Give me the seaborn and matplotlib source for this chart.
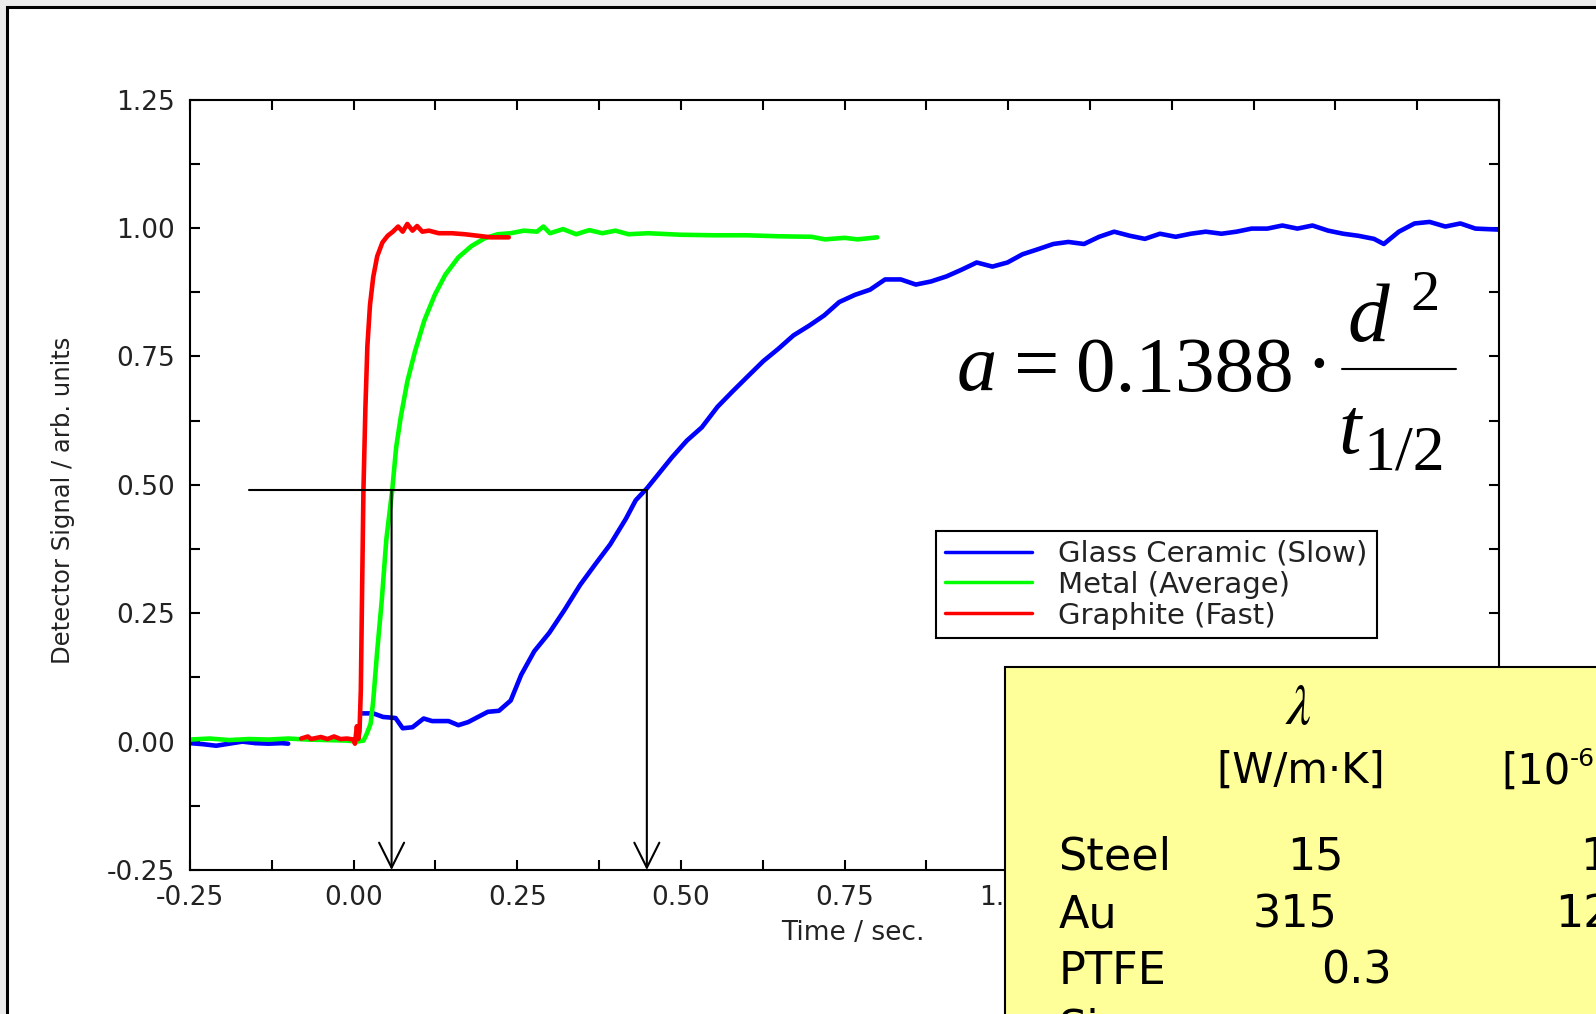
import numpy as np
import pandas as pd
import matplotlib
matplotlib.use('Agg')
import matplotlib.pyplot as plt
from matplotlib.patches import Rectangle
from matplotlib.lines import Line2D
from matplotlib.ticker import MultipleLocator, FormatStrFormatter
import seaborn as sns

# --- data (time in s, signal in arb. units) ---
glass_t_base = [-0.25, -0.23, -0.21, -0.19, -0.17, -0.15, -0.13, -0.11, -0.10]
glass_s_base = [-0.003, -0.005, -0.008, -0.004, 0.000, -0.003, -0.004, -0.003, -0.004]

glass_t = [0.010, 0.030, 0.045, 0.064, 0.075, 0.090, 0.107, 0.120, 0.145, 0.160,
           0.175, 0.190, 0.205, 0.222, 0.240, 0.256, 0.276, 0.299, 0.322, 0.346,
           0.369, 0.392, 0.416, 0.431, 0.448, 0.467, 0.486, 0.509, 0.532, 0.556,
           0.579, 0.602, 0.626, 0.649, 0.672, 0.696, 0.719, 0.742, 0.766, 0.789,
           0.812, 0.836, 0.859, 0.882, 0.906, 0.929, 0.952, 0.976, 0.999, 1.022,
           1.046, 1.069, 1.092, 1.116, 1.139, 1.162, 1.186, 1.209, 1.232, 1.256,
           1.279, 1.302, 1.326, 1.349, 1.372, 1.396, 1.419, 1.442, 1.465, 1.489,
           1.512, 1.535, 1.559, 1.574, 1.597, 1.621, 1.644, 1.668, 1.691, 1.714, 1.750]
glass_s = [0.055, 0.055, 0.048, 0.046, 0.026, 0.028, 0.045, 0.040, 0.040, 0.032,
           0.038, 0.048, 0.058, 0.060, 0.080, 0.130, 0.176, 0.212, 0.256, 0.305,
           0.345, 0.384, 0.434, 0.470, 0.493, 0.523, 0.553, 0.586, 0.612, 0.652,
           0.682, 0.711, 0.741, 0.765, 0.791, 0.810, 0.830, 0.856, 0.870, 0.880,
           0.900, 0.900, 0.890, 0.896, 0.906, 0.919, 0.933, 0.925, 0.933, 0.949,
           0.959, 0.969, 0.973, 0.969, 0.983, 0.993, 0.985, 0.979, 0.989, 0.983,
           0.989, 0.993, 0.989, 0.993, 0.999, 0.999, 1.005, 0.999, 1.005, 0.995,
           0.989, 0.985, 0.979, 0.969, 0.993, 1.009, 1.012, 1.003, 1.009, 0.999, 0.997]

metal_t = [-0.25, -0.22, -0.19, -0.16, -0.13, -0.10, -0.07, -0.04, -0.01, 0.005,
           0.015, 0.020, 0.026, 0.030, 0.036, 0.043, 0.050, 0.059, 0.065, 0.072,
           0.082, 0.094, 0.108, 0.124, 0.140, 0.160, 0.180, 0.200, 0.220, 0.240,
           0.260, 0.280, 0.290, 0.300, 0.320, 0.340, 0.360, 0.380, 0.400, 0.420,
           0.450, 0.500, 0.550, 0.600, 0.650, 0.700, 0.720, 0.750, 0.770, 0.800]
metal_s = [0.004, 0.006, 0.003, 0.005, 0.004, 0.006, 0.004, 0.003, 0.002, 0.000,
           0.002, 0.015, 0.035, 0.080, 0.176, 0.275, 0.394, 0.490, 0.573, 0.632,
           0.701, 0.761, 0.820, 0.870, 0.909, 0.943, 0.965, 0.980, 0.988, 0.990,
           0.995, 0.993, 1.003, 0.990, 0.998, 0.988, 0.996, 0.990, 0.995, 0.988,
           0.990, 0.987, 0.986, 0.986, 0.984, 0.983, 0.978, 0.981, 0.978, 0.982]

graphite_t = [-0.080, -0.070, -0.065, -0.050, -0.040, -0.030, -0.020, -0.010, 0.000, 0.002,
              0.005, 0.007, 0.009, 0.011, 0.013, 0.015, 0.018, 0.021, 0.025, 0.030,
              0.036, 0.044, 0.052, 0.060, 0.068, 0.075, 0.082, 0.090, 0.097, 0.105,
              0.115, 0.130, 0.150, 0.170, 0.190, 0.210, 0.237]
graphite_s = [0.006, 0.010, 0.005, 0.009, 0.005, 0.010, 0.005, 0.006, 0.004, -0.004,
              0.030, 0.005, 0.020, 0.100, 0.300, 0.490, 0.650, 0.770, 0.850, 0.905,
              0.945, 0.972, 0.985, 0.993, 1.003, 0.993, 1.008, 0.995, 1.004, 0.993,
              0.995, 0.990, 0.990, 0.988, 0.985, 0.982, 0.982]

labels = ['Glass Ceramic (Slow)', 'Metal (Average)', 'Graphite (Fast)']
colors = ['#0000ff', '#00ff00', '#ff0000']

half_level = 0.49
guide_start = -0.16
t_half_metal = 0.058
t_half_glass = 0.448

materials = ['Steel', 'Au', 'PTFE', 'Si']
conductivity = ['15', '315', '0.3', '']
third_col = ['1', '12', '', '']

W, H = 1596, 1014

sns.set_theme(style='ticks', rc={'axes.linewidth': 1.5, 'axes.edgecolor': 'black'})
plt.rcParams['font.family'] = ['DejaVu Sans']
plt.rcParams['mathtext.fontset'] = 'stix'
plt.rcParams['axes.unicode_minus'] = False

fig = plt.figure(figsize=(W / 100, H / 100), dpi=100, facecolor='#ebebeb')

def fx(px):
    return px / W

def fy(py):
    return 1 - py / H

# slide frame
fig.add_artist(Rectangle((fx(7), -0.1), 1.2, fy(7) + 0.1, transform=fig.transFigure,
                         facecolor='white', edgecolor='black', lw=2.2, zorder=-2))

ax = fig.add_axes([fx(190), fy(870), (1499 - 190) / W, (870 - 99.7) / H])
ax.set_facecolor('white')

lw = 3.3
sns.lineplot(x=glass_t_base, y=glass_s_base, color=colors[0], lw=lw, ax=ax, legend=False,
             sort=False, estimator=None)
sns.lineplot(x=glass_t, y=glass_s, color=colors[0], lw=lw, ax=ax, legend=False,
             sort=False, estimator=None)
sns.lineplot(x=metal_t, y=metal_s, color=colors[1], lw=lw, ax=ax, legend=False,
             sort=False, estimator=None)
sns.lineplot(x=graphite_t, y=graphite_s, color=colors[2], lw=lw, ax=ax, legend=False,
             sort=False, estimator=None)

# half-signal construction
ax.plot([guide_start, t_half_glass], [half_level, half_level], color='black', lw=1.5)
for th in [t_half_metal, t_half_glass]:
    ax.annotate('', xy=(th, -0.25), xytext=(th, half_level),
                arrowprops=dict(arrowstyle='->, head_length=0.9, head_width=0.45',
                                mutation_scale=20, color='black', lw=1.5,
                                shrinkA=0, shrinkB=0))

ax.set_xlim(-0.25, 1.75)
ax.set_ylim(-0.25, 1.25)
ax.xaxis.set_major_locator(MultipleLocator(0.25))
ax.xaxis.set_minor_locator(MultipleLocator(0.125))
ax.yaxis.set_major_locator(MultipleLocator(0.25))
ax.yaxis.set_minor_locator(MultipleLocator(0.125))
ax.xaxis.set_major_formatter(FormatStrFormatter('%.2f'))
ax.yaxis.set_major_formatter(FormatStrFormatter('%.2f'))
ax.tick_params(which='both', direction='in', top=True, right=True, length=7,
               width=1.5, color='black', labelsize=19, labelcolor='#222222')
ax.tick_params(axis='x', which='major', pad=11)
ax.tick_params(axis='y', which='major', pad=11)
for sp in ax.spines.values():
    sp.set_visible(True)
    sp.set_linewidth(1.5)
    sp.set_color('black')
ax.grid(False)

ax.set_xlabel('Time / sec.', fontsize=19, color='#222222')
ax.xaxis.label.set_verticalalignment('center')
ax.xaxis.set_label_coords((853 - 190) / 1309, -(933 - 870) / 770.3)
ax.set_ylabel('Detector Signal / arb. units', fontsize=17.5, color='#222222')
ax.yaxis.label.set_verticalalignment('center')
ax.yaxis.set_label_coords((63 - 190) / 1309, 1 - (500 - 99.7) / 770.3)

handles = [Line2D([0], [0], color=c, lw=2.5) for c in colors]
leg = ax.legend(handles, labels, loc='upper left', bbox_to_anchor=(fx(936), fy(531)),
                bbox_transform=fig.transFigure, fontsize=21, frameon=True, fancybox=False,
                framealpha=1, edgecolor='black', borderpad=0.3, handlelength=3.0,
                handletextpad=0.9, labelspacing=0.1, borderaxespad=0)
leg.get_frame().set_linewidth(1.5)
for t in leg.get_texts():
    t.set_color('#222222')

# formula a = 0.1388 * d^2 / t_1/2, set piece by piece
serif = 'Liberation Serif'
fig.text(fx(957), fy(390), 'a', fontsize=58, family=serif, style='italic',
         ha='left', va='baseline', color='black')
fig.text(fx(1014), fy(390), '=', fontsize=58, family=serif, ha='left', va='baseline',
         color='black')
fig.text(fx(1076), fy(391), '0.1388', fontsize=57, family=serif, ha='left', va='baseline',
         color='black')
fig.text(fx(1319), fy(390), '·', fontsize=58, family=serif, ha='center', va='baseline',
         color='black')
fig.add_artist(Line2D([fx(1342), fx(1456)], [fy(368.5), fy(368.5)],
                      transform=fig.transFigure, color='black', lw=1.5))
fig.text(fx(1347), fy(341), 'd', fontsize=60, family=serif, style='italic',
         ha='left', va='baseline', color='black')
fig.text(fx(1410), fy(310), '2', fontsize=42, family=serif, ha='left', va='baseline',
         color='black')
fig.text(fx(1338), fy(453), 't', fontsize=58, family=serif, style='italic',
         ha='left', va='baseline', color='black')
fig.text(fx(1363), fy(470), '1/2', fontsize=46, family=serif, ha='left', va='baseline',
         color='black')

# yellow table box
fig.add_artist(Rectangle((fx(1004.7), -0.1), 1, fy(666.7) + 0.1, transform=fig.transFigure,
                         facecolor='#ffff99', edgecolor='black', lw=1.5, zorder=5))
fig.text(fx(1298), fy(709), r'$\lambda$', fontsize=40, ha='center', va='center', zorder=6,
         color='black')
fig.text(fx(1301), fy(771), '[W/m·K]', fontsize=30, ha='center', va='center', zorder=6,
         color='black')
fig.text(fx(1501), fy(784), '[10', fontsize=30, ha='left', va='baseline', zorder=6,
         color='black')
fig.text(fx(1570), fy(766), '-6', fontsize=18, ha='left', va='baseline', zorder=6,
         color='black')
row_y = [870, 927, 984, 1042]
value_x = [1315, 1295, 1356, 1315]
third_x = [1580, 1555, 1580, 1580]
for name, val, extra, yb, vx, tx in zip(materials, conductivity, third_col, row_y, value_x, third_x):
    fig.text(fx(1058.6), fy(yb), name, fontsize=32, ha='left', va='baseline', zorder=6,
             color='black')
    if val:
        fig.text(fx(vx), fy(yb), val, fontsize=32, ha='center', va='baseline', zorder=6,
                 color='black')
    if extra:
        fig.text(fx(tx), fy(yb), extra, fontsize=32, ha='left', va='baseline', zorder=6,
                 color='black')

fig.savefig('out.png', dpi=100, facecolor=fig.get_facecolor())
